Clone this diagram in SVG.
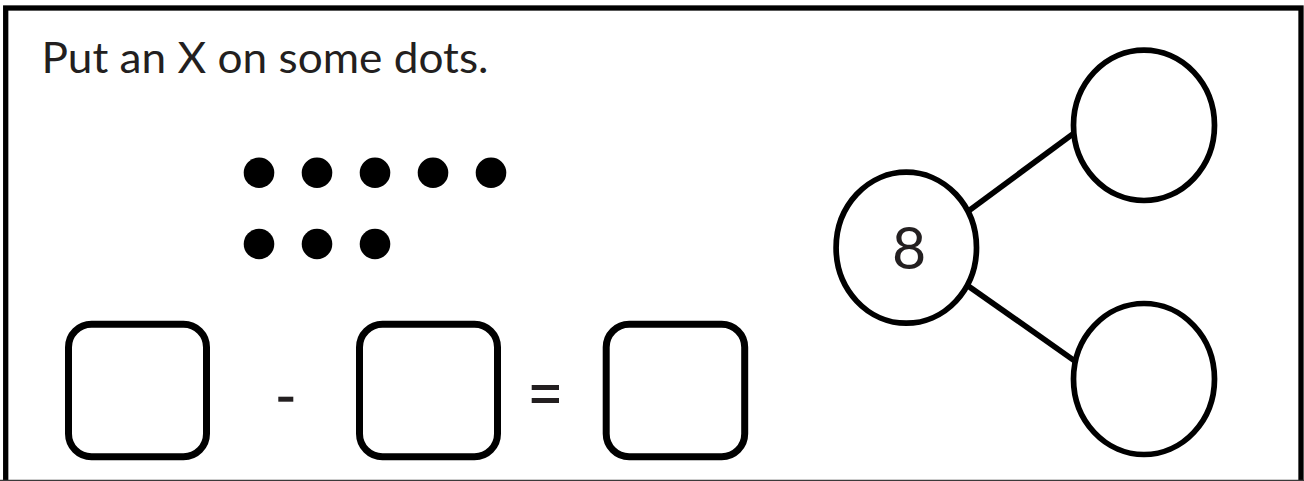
<svg xmlns="http://www.w3.org/2000/svg" width="1304" height="481" viewBox="0 0 1304 481">
<style>
.txt{font-family:Lato,"Source Sans Pro","Open Sans","Liberation Sans",sans-serif;fill:#231f20}
.box{fill:none;stroke:#000;stroke-width:7}
.circ{fill:none;stroke:#000;stroke-width:5.7}
.dot{fill:#000}
.conn{stroke:#000;stroke-width:5.7;fill:none}
</style>
<rect x="0" y="0" width="1304" height="481" fill="#fff"/>
<g id="frame">
<rect x="5.7" y="8" width="1295.3" height="520" fill="none" stroke="#000" stroke-width="5.3"/>
<line x1="0" y1="480.3" x2="1304" y2="480.3" stroke="#3a3a3a" stroke-width="1.2"/>
</g>
<g id="title">
<text class="txt" x="41.5" y="73.3" font-size="43" textLength="447" lengthAdjust="spacingAndGlyphs">Put an X on some dots.</text>
</g>
<g id="dots">
<circle class="dot" cx="259" cy="172.7" r="15.3"/>
<circle class="dot" cx="317" cy="172.7" r="15.3"/>
<circle class="dot" cx="375" cy="172.7" r="15.3"/>
<circle class="dot" cx="433" cy="172.7" r="15.3"/>
<circle class="dot" cx="491" cy="172.7" r="15.3"/>
<circle class="dot" cx="259" cy="244" r="15.3"/>
<circle class="dot" cx="317" cy="244" r="15.3"/>
<circle class="dot" cx="375" cy="244" r="15.3"/>
</g>
<g id="box1"><rect class="box" x="68.5" y="324.2" width="138" height="132.5" rx="23" ry="23"/></g>
<g id="minus"><rect x="278.3" y="396.7" width="15" height="5" fill="#231f20"/></g>
<g id="box2"><rect class="box" x="359.5" y="324.2" width="138" height="132.5" rx="23" ry="23"/></g>
<g id="equals"><rect x="531.7" y="385" width="27.3" height="5" fill="#231f20"/><rect x="531.7" y="398" width="27.3" height="5" fill="#231f20"/></g>
<g id="box3"><rect class="box" x="606.2" y="324.2" width="138.5" height="132.5" rx="23" ry="23"/></g>
<g id="connectors">
<line class="conn" x1="969.5" y1="210.2" x2="1073.5" y2="133.5"/>
<line class="conn" x1="968" y1="285.8" x2="1075.5" y2="361.5"/>
</g>
<g id="node-8">
<ellipse class="circ" cx="906.3" cy="247.7" rx="70.2" ry="75.5"/>
<text class="txt" x="909" y="269.3" font-size="59" text-anchor="middle">8</text>
</g>
<g id="node-top">
<ellipse class="circ" cx="1144" cy="125.3" rx="70.5" ry="75.2"/>
</g>
<g id="node-bottom">
<ellipse class="circ" cx="1144" cy="379" rx="70.5" ry="75.5"/>
</g>
</svg>
